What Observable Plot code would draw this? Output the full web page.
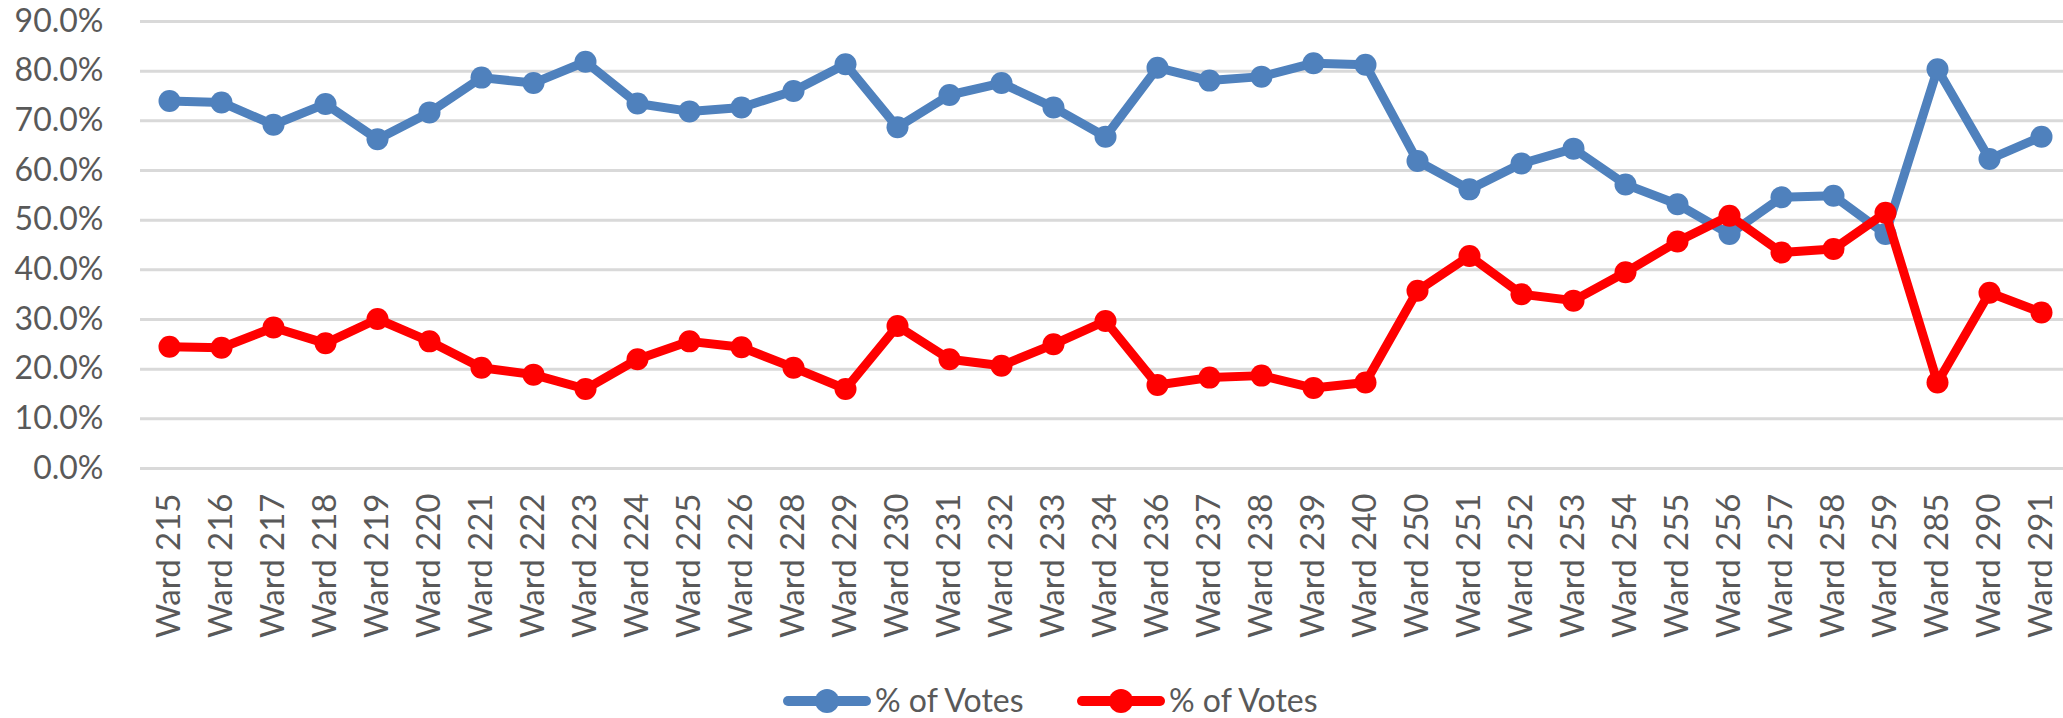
<!DOCTYPE html>
<html>
<head>
<meta charset="utf-8">
<script src="https://cdn.jsdelivr.net/npm/d3@7"></script>
<script src="https://cdn.jsdelivr.net/npm/@observablehq/plot@0.6"></script>
<style>
  html, body { margin: 0; padding: 0; background: #fff; }
  body { width: 2063px; height: 718px; overflow: hidden; font-family: Lato, "Liberation Sans", sans-serif; }
  #chart svg { display: block; max-width: none; }
  #legend { position: relative; width: 2063px; height: 58px; }
  .sw { position: absolute; top: 28px; }
  .lt { position: absolute; top: 20px; font-size: 32px; line-height: 40px; color: #595959; font-family: Lato, sans-serif; }
</style>
</head>
<body>
<div id="chart"></div>
<div id="legend"></div>
<script>
const wards = ["Ward 215","Ward 216","Ward 217","Ward 218","Ward 219","Ward 220","Ward 221","Ward 222","Ward 223","Ward 224","Ward 225","Ward 226","Ward 228","Ward 229","Ward 230","Ward 231","Ward 232","Ward 233","Ward 234","Ward 236","Ward 237","Ward 238","Ward 239","Ward 240","Ward 250","Ward 251","Ward 252","Ward 253","Ward 254","Ward 255","Ward 256","Ward 257","Ward 258","Ward 259","Ward 285","Ward 290","Ward 291"];
const blueVotes = [0.740,0.737,0.692,0.734,0.663,0.717,0.787,0.776,0.819,0.735,0.719,0.727,0.760,0.814,0.687,0.752,0.776,0.727,0.668,0.807,0.781,0.789,0.816,0.813,0.619,0.562,0.614,0.644,0.572,0.532,0.472,0.546,0.549,0.472,0.804,0.623,0.668];
const redVotes = [0.245,0.243,0.284,0.252,0.301,0.256,0.203,0.189,0.160,0.220,0.256,0.244,0.203,0.160,0.287,0.220,0.207,0.250,0.297,0.168,0.183,0.187,0.162,0.173,0.358,0.428,0.351,0.338,0.395,0.457,0.509,0.435,0.442,0.515,0.173,0.354,0.314];
const seriesNames = ["% of Votes", "% of Votes"];
const seriesColors = ["#4F81BD", "#FF0000"];
const yTicks = [0,0.1,0.2,0.3,0.4,0.5,0.6,0.7,0.8,0.9];

const blueData = wards.map((w, i) => ({ward: w, v: blueVotes[i]}));
const redData = wards.map((w, i) => ({ward: w, v: redVotes[i]}));

const chart = Plot.plot({
  width: 2063,
  height: 660,
  marginLeft: 140,
  marginRight: 0,
  marginTop: 21,
  marginBottom: 192,
  style: { fontFamily: "Lato, sans-serif", fontSize: "32px", color: "#595959", background: "#fff" },
  x: { type: "point", domain: wards, range: [165, 2045], padding: 0, label: null },
  y: { domain: [0, 0.9], label: null },
  marks: [
    Plot.ruleY(yTicks, { stroke: "#D9D9D9", strokeWidth: 3 }),
    Plot.axisY({ ticks: yTicks, tickSize: 0, tickPadding: 37, tickFormat: d => (d * 100).toFixed(1) + "%", fill: "#595959", fontSize: 32, label: null }),
    Plot.axisX({ tickSize: 0, tickPadding: 25, tickRotate: -90, fill: "#595959", fontSize: 33, label: null }),
    Plot.line(blueData, { x: "ward", y: "v", stroke: seriesColors[0], strokeWidth: 9, strokeLinejoin: "round" }),
    Plot.dot(blueData, { x: "ward", y: "v", r: 11, fill: seriesColors[0], stroke: "none" }),
    Plot.line(redData, { x: "ward", y: "v", stroke: seriesColors[1], strokeWidth: 9, strokeLinejoin: "round" }),
    Plot.dot(redData, { x: "ward", y: "v", r: 11, fill: seriesColors[1], stroke: "none" })
  ]
});
document.getElementById("chart").appendChild(chart);

const legend = document.getElementById("legend");
const items = [
  { swLeft: 783, textLeft: 875 },
  { swLeft: 1077, textLeft: 1169 }
];
items.forEach((it, i) => {
  const sw = document.createElementNS("http://www.w3.org/2000/svg", "svg");
  sw.setAttribute("width", 88);
  sw.setAttribute("height", 26);
  sw.setAttribute("class", "sw");
  sw.style.left = it.swLeft + "px";
  sw.innerHTML = `<line x1="5" y1="13" x2="83" y2="13" stroke="${seriesColors[i]}" stroke-width="10" stroke-linecap="round"/><circle cx="44" cy="13" r="12" fill="${seriesColors[i]}"/>`;
  legend.appendChild(sw);
  const t = document.createElement("div");
  t.className = "lt";
  t.style.left = it.textLeft + "px";
  t.textContent = seriesNames[i];
  legend.appendChild(t);
});
</script>
</body>
</html>
